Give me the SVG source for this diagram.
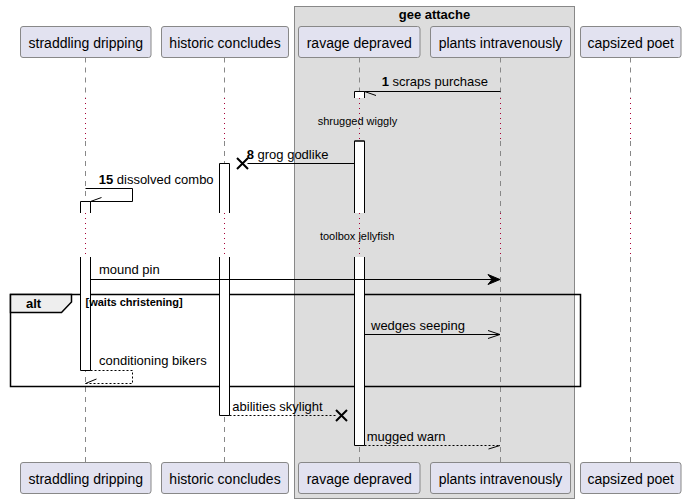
<svg xmlns="http://www.w3.org/2000/svg" width="686" height="504" viewBox="0 0 686 504">
<style>
.t{font-family:"Liberation Sans",Arial,sans-serif;fill:#000}
.p{font-size:14px}
.m{font-size:13px}
.s{font-size:11px}
.b{font-weight:bold}
.box{fill:#E2E2F0;stroke:#888888;stroke-width:1}
.ll{stroke:#888888;stroke-width:1;stroke-dasharray:5 5;fill:none}
.dl{stroke:#A80036;stroke-width:1;stroke-dasharray:1 4;fill:none}
.act{fill:#FFFFFF;stroke:none}
.ae{fill:none;stroke:#000;stroke-width:1}
.ln{fill:none;stroke:#000;stroke-width:1}
.dash{fill:none;stroke:#000;stroke-width:1;stroke-dasharray:2 2}
.x{fill:none;stroke:#000;stroke-width:2}
</style>
<g id="group-gee-attache">
<rect x="294.5" y="6.5" width="280" height="492" fill="#DDDDDD" stroke="#888888"/>
<text class="t m b" x="434.5" y="19" text-anchor="middle">gee attache</text>
</g>
<g id="lifelines">
<path class="ll" d="M85.5 57.5V98M85.5 141V213M85.5 257V462"/>
<path class="ll" d="M224.5 57.5V98M224.5 141V213M224.5 257V462"/>
<path class="ll" d="M359.5 57.5V98M359.5 141V213M359.5 257V462"/>
<path class="ll" d="M500.5 57.5V98M500.5 141V213M500.5 257V462"/>
<path class="ll" d="M630.5 57.5V98M630.5 141V213M630.5 257V462"/>
<path class="dl" d="M85.5 98V141M85.5 213V257M224.5 98V141M224.5 213V257M359.5 98V141M359.5 213V257M500.5 98V141M500.5 213V257M630.5 98V141M630.5 213V257"/>
</g>
<g id="alt-frame">
<rect x="10.5" y="294.5" width="570" height="92" fill="none" stroke="#000" stroke-width="1.5"/>
<path d="M10.5 294.5H71.5V302L61.5 312.5H10.5Z" fill="#EEEEEE" stroke="#000" stroke-width="1.5"/>
<text class="t m b" x="26" y="308">alt</text>
</g>
<g id="activations">
<rect class="act" x="80.5" y="201.5" width="10" height="11.5"/>
<path class="ae" d="M80.5 213V201.5H90.5V213"/>
<rect class="act" x="80.5" y="257" width="10" height="113.5"/>
<path class="ae" d="M80.5 257V370.5H90.5V257"/>
<rect class="act" x="219.5" y="163.5" width="10" height="49.5"/>
<path class="ae" d="M219.5 213V163.5H229.5V213"/>
<rect class="act" x="219.5" y="257" width="10" height="158.5"/>
<path class="ae" d="M219.5 257V415.5H229.5V257"/>
<rect class="act" x="354.5" y="91.5" width="10" height="6.5"/>
<path class="ae" d="M354.5 98V91.5H364.5V98"/>
<rect class="act" x="354.5" y="141" width="10" height="72"/>
<path class="ae" d="M354.5 213V141H364.5V213M354.5 141H364.5"/>
<rect class="act" x="354.5" y="257" width="10" height="188.5"/>
<path class="ae" d="M354.5 257V445.5H364.5V257"/>
</g>
<g id="connectors">
<path class="ln" d="M500.5 91.5H364.5M364.5 91.5L376 95.5"/>
<path class="ln" d="M354.5 163.5H247.5"/>
<path class="x" d="M237 158L248 169M248 158L237 169"/>
<path class="ln" d="M85.5 188.5H132.5V201.5H90.5M90.5 201.5L101.5 197.5"/>
<path class="ln" d="M90.5 279.5H498"/>
<path d="M488 274.5L500 279.5L488 284.5L492 279.5Z" fill="#000" stroke="#000" stroke-width="1"/>
<path class="ln" d="M364.5 334.5H500M488 330.5L500 334.5L488 338.5"/>
<path class="dash" d="M90.5 370.5H132.5V383.5H85.5"/>
<path class="ln" d="M85.5 383.5L96.5 379"/>
<path class="dash" d="M229.5 415.5H336"/>
<path class="x" d="M336 410L347 421M347 410L336 421"/>
<path class="dash" d="M364.5 445.5H500"/>
<path class="ln" d="M500 445.5L488.5 449"/>
</g>
<g id="labels">
<text class="t s b" x="85.5" y="306">[waits christening]</text>
<text class="t m" x="381.7" y="86"><tspan class="b">1</tspan> scraps purchase</text>
<text class="t s" x="357.4" y="125" text-anchor="middle">shrugged wiggly</text>
<text class="t m" x="246.7" y="158.5"><tspan class="b">8</tspan> grog godlike</text>
<text class="t m" x="98.7" y="183.5"><tspan class="b">15</tspan> dissolved combo</text>
<text class="t s" x="357.2" y="240" text-anchor="middle">toolbox jellyfish</text>
<text class="t m" x="99" y="274">mound pin</text>
<text class="t m" x="371" y="330">wedges seeping</text>
<text class="t m" x="99" y="364.5">conditioning bikers</text>
<text class="t m" x="232.3" y="410.5">abilities skylight</text>
<text class="t m" x="366.7" y="440.5">mugged warn</text>
</g>
<g id="p-straddling-dripping">
<rect class="box" x="20.5" y="26.5" width="130.5" height="31" rx="2.5"/>
<text class="t p" x="85.75" y="47.5" text-anchor="middle">straddling dripping</text>
<rect class="box" x="20.5" y="462.5" width="130.5" height="31" rx="2.5"/>
<text class="t p" x="85.75" y="483.5" text-anchor="middle">straddling dripping</text>
</g>
<g id="p-historic-concludes">
<rect class="box" x="161.5" y="26.5" width="127" height="31" rx="2.5"/>
<text class="t p" x="225" y="47.5" text-anchor="middle">historic concludes</text>
<rect class="box" x="161.5" y="462.5" width="127" height="31" rx="2.5"/>
<text class="t p" x="225" y="483.5" text-anchor="middle">historic concludes</text>
</g>
<g id="p-ravage-depraved">
<rect class="box" x="298.5" y="26.5" width="121.5" height="31" rx="2.5"/>
<text class="t p" x="359.25" y="47.5" text-anchor="middle">ravage depraved</text>
<rect class="box" x="298.5" y="462.5" width="121.5" height="31" rx="2.5"/>
<text class="t p" x="359.25" y="483.5" text-anchor="middle">ravage depraved</text>
</g>
<g id="p-plants-intravenously">
<rect class="box" x="430.5" y="26.5" width="140" height="31" rx="2.5"/>
<text class="t p" x="500.5" y="47.5" text-anchor="middle">plants intravenously</text>
<rect class="box" x="430.5" y="462.5" width="140" height="31" rx="2.5"/>
<text class="t p" x="500.5" y="483.5" text-anchor="middle">plants intravenously</text>
</g>
<g id="p-capsized-poet">
<rect class="box" x="580.5" y="26.5" width="100.5" height="31" rx="2.5"/>
<text class="t p" x="630.75" y="47.5" text-anchor="middle">capsized poet</text>
<rect class="box" x="580.5" y="462.5" width="100.5" height="31" rx="2.5"/>
<text class="t p" x="630.75" y="483.5" text-anchor="middle">capsized poet</text>
</g>
</svg>
